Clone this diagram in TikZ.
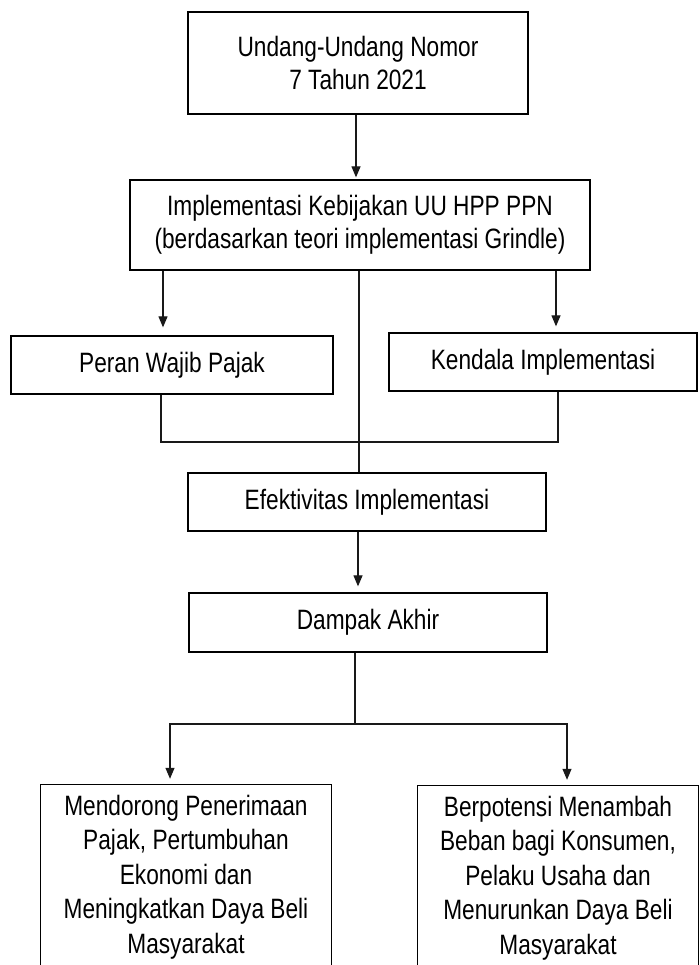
\documentclass[tikz,border=0pt]{standalone}
\usepackage{fontspec}
\setmainfont{Liberation Sans}[FakeStretch=0.81]
\usetikzlibrary{arrows.meta}
\begin{document}
\begin{tikzpicture}[x=1pt,y=-1pt,
  box/.style={draw=black,line width=1.3pt,rectangle,inner sep=0pt,align=center,
    font=\fontsize{28}{33}\selectfont,text=black},
  openbox/.style={rectangle,inner sep=0pt,align=center,
    font=\fontsize{28}{34.5}\selectfont,text=black},
  conn/.style={line width=1.2pt,draw=black!90},
  arr/.style={conn,-{Triangle[length=11pt,width=9pt]}}]
\useasboundingbox (0,0) rectangle (699,965);

\node[box,minimum width=340pt,minimum height=102pt] (uu) at (358,63) {Undang-Undang Nomor\\7 Tahun 2021};
\node[box,minimum width=460pt,minimum height=90pt] (impl) at (360,225) {Implementasi Kebijakan UU HPP PPN\\(berdasarkan teori implementasi Grindle)};
\node[box,minimum width=322pt,minimum height=58pt] (peran) at (172,365) {Peran Wajib Pajak};
\node[box,minimum width=308pt,minimum height=58pt] (kendala) at (543,362) {Kendala Implementasi};
\node[box,minimum width=358pt,minimum height=58pt] (efek) at (367,502) {Efektivitas Implementasi};
\node[box,minimum width=358pt,minimum height=59pt] (dampak) at (368,622.5) {Dampak Akhir};
\node[openbox,minimum width=290pt,minimum height=184pt] (bl) at (186,877) {Mendorong Penerimaan\\Pajak, Pertumbuhan\\Ekonomi dan\\Meningkatkan Daya Beli\\Masyarakat};
\node[openbox,minimum width=280pt,minimum height=184pt] (br) at (558,878) {Berpotensi Menambah\\Beban bagi Konsumen,\\Pelaku Usaha dan\\Menurunkan Daya Beli\\Masyarakat};
\draw[line width=1.3pt] (bl.south west) |- (bl.north east) -- (bl.south east);
\draw[line width=1.3pt] (br.south west) |- (br.north east) -- (br.south east);

\coordinate (xa) at (356,0);
\coordinate (xl) at (163,0);
\coordinate (xr) at (556,0);
\coordinate (xc) at (359,0);
\coordinate (xpl) at (161,0);
\coordinate (xkr) at (558,0);
\coordinate (hl) at (0,442);
\coordinate (xe) at (358,0);
\coordinate (split) at (355,724);
\coordinate (xbl) at (170,0);
\coordinate (xbr) at (567,0);

\draw[arr,shorten >=2pt] (uu.south -| xa) -- (impl.north -| xa);
\draw[arr,shorten >=8pt] (impl.south -| xl) -- (peran.north -| xl);
\draw[arr,shorten >=6pt] (impl.south -| xr) -- (kendala.north -| xr);
\draw[conn] (impl.south -| xc) -- (efek.north -| xc);
\draw[conn] (peran.south -| xpl) |- (hl -| xkr) -- (kendala.south -| xkr);
\draw[arr,shorten >=6pt] (efek.south -| xe) -- (dampak.north -| xe);
\draw[conn] (dampak.south -| split) -- (split);
\draw[arr,shorten >=6pt] (split) -| (bl.north -| xbl);
\draw[arr,shorten >=6pt] (split) -| (br.north -| xbr);
\end{tikzpicture}
\end{document}
